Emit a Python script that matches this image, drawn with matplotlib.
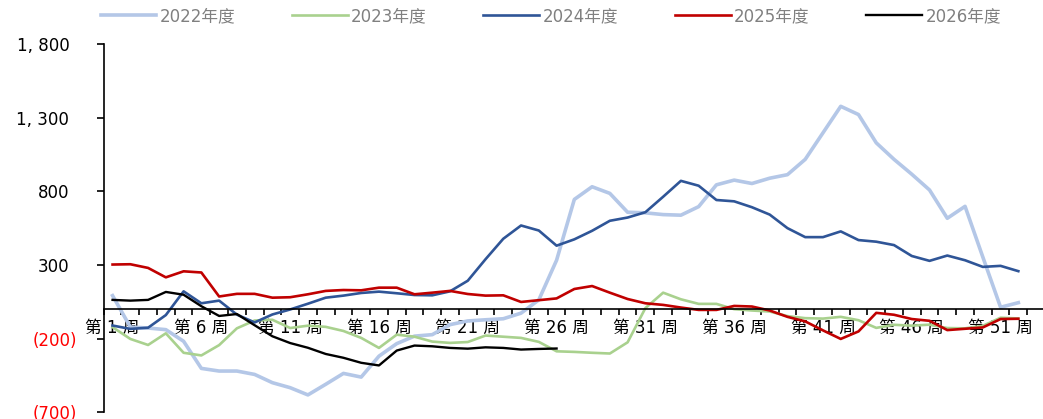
import matplotlib
matplotlib.use('Agg')
import matplotlib.pyplot as plt
from matplotlib.transforms import ScaledTranslation

plt.rcParams['font.family'] = ['DejaVu Sans', 'Noto Sans CJK SC']

# weekly values
y2022 = [92, -121, -128, -139, -218, -402, -420, -420, -443, -499, -533, -582, -510,
         -436, -461, -319, -234, -183, -173, -105, -80, -72, -65, -27, 63, 332,
         745, 831, 786, 658, 654, 642, 638, 696, 844, 876, 853, 889, 913, 1017,
         1197, 1377, 1321, 1129, 1017, 916, 809, 617, 698, 354, 13, 44]
y2023 = [-122, -202, -243, -164, -296, -314, -244, -130, -77, -72, -128, -112, -120,
         -148, -195, -263, -173, -187, -220, -229, -223, -179, -187, -195, -222, -286,
         -290, -296, -301, -225, 7, 112, 67, 36, 36, 0, -9, -16, -47, -61,
         -64, -52, -75, -127, -106, -112, -105, -128, -130, -113, -58, -63]
y2024 = [-111, -134, -126, -40, 121, 40, 58, -37, -90, -36, -2, 37, 78,
         92, 110, 119, 108, 96, 94, 121, 193, 339, 478, 568, 534, 431,
         474, 532, 600, 622, 658, 763, 871, 838, 741, 732, 692, 642, 550, 489,
         489, 528, 469, 458, 435, 361, 328, 364, 332, 287, 294, 258]
y2025 = [303, 305, 280, 216, 257, 249, 86, 104, 104, 78, 81, 101, 124,
         130, 128, 146, 146, 101, 112, 124, 103, 92, 94, 49, 61, 73,
         137, 157, 112, 69, 40, 29, 11, -5, -5, 22, 18, -9, -52, -83,
         -144, -202, -151, -25, -38, -67, -79, -142, -133, -124, -67, -65]
y2026 = [63, 58, 63, 117, 98, 20, -46, -33, -109, -184, -230, -262, -304,
         -330, -364, -382, -281, -247, -252, -263, -268, -259, -263, -274, -270, -267]

series = [
    ('2022年度', y2022, '#B4C7E7', 2.6),
    ('2023年度', y2023, '#A9D18E', 1.9),
    ('2024年度', y2024, '#2F5597', 1.9),
    ('2025年度', y2025, '#C00000', 1.9),
    ('2026年度', y2026, '#000000', 1.7),
]
yticks = [-700, -200, 300, 800, 1300, 1800]
ytick_labels = ['(700)', '(200)', '300', '800', '1, 300', '1, 800']
label_weeks = list(range(1, 53, 5))

fig = plt.figure(figsize=(10.43, 4.19), dpi=100)
ax = fig.add_axes([0.0994, 0.016, 0.9025, 0.879])

for name, vals, color, lw in series:
    ax.plot(range(1, len(vals) + 1), vals, color=color, lw=lw, label=name)

ax.set_xlim(0.5, 53.5)
ax.set_ylim(-700, 1800)

for s in ['top', 'right']:
    ax.spines[s].set_visible(False)
ax.spines['bottom'].set_position(('data', 0))
ax.spines['bottom'].set_linewidth(1.2)
ax.spines['left'].set_linewidth(1.2)

# category labels every 5 weeks, tick marks between categories
ax.set_xticks(label_weeks)
ax.set_xticklabels([f'第 {w} 周' for w in label_weeks], fontsize=12)
ax.set_xticks([i + 0.5 for i in range(0, 54)], minor=True)
ax.tick_params(axis='x', which='major', length=0, pad=7)
ax.tick_params(axis='x', which='minor', length=4, width=1.2, direction='out')

ax.set_yticks(yticks)
ax.set_yticklabels(ytick_labels, fontsize=12)
ax.tick_params(axis='y', length=5, width=1.2, pad=14)
for lab, v in zip(ax.get_yticklabels(), yticks):
    if v < 0:
        lab.set_color('#FF0000')
    else:
        lab.set_transform(lab.get_transform() + ScaledTranslation(-8 / 100, 0, fig.dpi_scale_trans))

leg = fig.legend(loc='center', bbox_to_anchor=(0.528, 0.962), ncol=5, frameon=False,
                 fontsize=12, handlelength=3.35, handletextpad=0.2, columnspacing=3.4)
for t in leg.get_texts():
    t.set_color('#808080')

fig.savefig('out.png', dpi=100)
